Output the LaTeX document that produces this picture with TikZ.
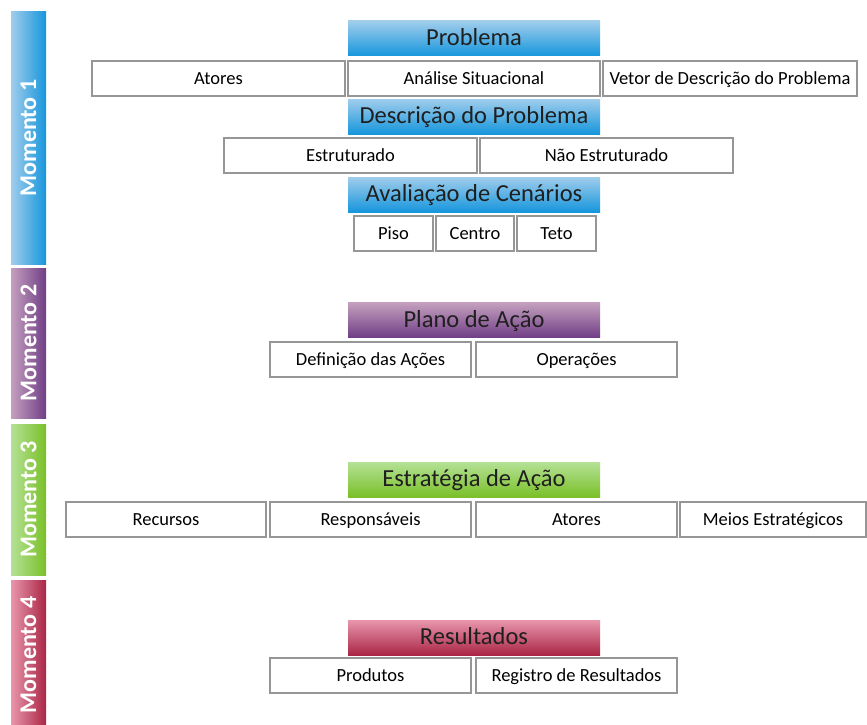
\documentclass[tikz,border=0pt]{standalone}
\usepackage{fontspec}
\setmainfont{Carlito}
\usepackage{graphicx}

\definecolor{azulA}{RGB}{160,205,236}
\definecolor{azulB}{RGB}{22,150,220}
\definecolor{roxoA}{RGB}{196,160,190}
\definecolor{roxoB}{RGB}{112,62,134}
\definecolor{verdeA}{RGB}{180,225,150}
\definecolor{verdeB}{RGB}{122,192,40}
\definecolor{rosaA}{RGB}{232,150,172}
\definecolor{rosaB}{RGB}{170,38,70}
\definecolor{borda}{RGB}{150,150,150}

\begin{document}
\begin{tikzpicture}[x=1pt, y=-1pt,
    caixa/.style={draw=borda, line width=1.1pt, rectangle, fill=white,
      minimum height=35pt, inner sep=0pt, text height=14pt, text depth=2pt,
      font=\fontsize{18.5}{20}\selectfont},
    titulo/.style={rectangle, minimum width=252pt, minimum height=35pt,
      inner sep=0pt, text height=18pt, text depth=3.5pt,
      font=\fontsize{24.5}{26}\selectfont, text=black!88},
    momento/.style={rectangle, minimum width=35pt, inner sep=0pt,
      text=white, font=\fontsize{24}{26}\selectfont\bfseries}]
  \useasboundingbox (0,0) rectangle (867,725);

  % barras laterais
  \node[momento, minimum height=252pt, left color=azulA, right color=azulB] (m1) at (28.5,138) {\rotatebox{90}{Momento 1}};
  \node[momento, minimum height=150pt, left color=roxoA, right color=roxoB] (m2) at (28.5,343) {\rotatebox{90}{Momento 2}};
  \node[momento, minimum height=151pt, left color=verdeA, right color=verdeB] (m3) at (28.5,499.5) {\rotatebox{90}{Momento 3}};
  \node[momento, minimum height=150pt, left color=rosaA, right color=rosaB] (m4) at (28.5,655) {\rotatebox{90}{Momento 4}};

  % momento 1
  \node[titulo, top color=azulA, bottom color=azulB] (prob) at (474,38.5) {Problema};
  \node[caixa, minimum width=253pt] (atores1) at (218.5,78.5) {Atores};
  \node[caixa, minimum width=252pt] (analise) at (474,78.5) {Análise Situacional};
  \node[caixa, minimum width=254pt] (vetor) at (730,78.5) {Vetor de Descrição do Problema};
  \node[titulo, top color=azulA, bottom color=azulB] (desc) at (474,116.5) {Descrição do Problema};
  \node[caixa, minimum width=253pt] (estrut) at (350.5,155.5) {Estruturado};
  \node[caixa, minimum width=253pt] (naoestrut) at (606.5,155.5) {Não Estruturado};
  \node[titulo, top color=azulA, bottom color=azulB] (aval) at (474,194.5) {Avaliação de Cenários};
  \node[caixa, minimum width=79pt] (piso) at (393.5,233.5) {Piso};
  \node[caixa, minimum width=78pt] (centro) at (475,233.5) {Centro};
  \node[caixa, minimum width=79pt] (teto) at (556.5,233.5) {Teto};

  % momento 2
  \node[titulo, top color=roxoA, bottom color=roxoB] (plano) at (474,320) {Plano de Ação};
  \node[caixa, minimum width=201pt] (defacoes) at (370.5,359.5) {Definição das Ações};
  \node[caixa, minimum width=201pt] (oper) at (576.5,359.5) {Operações};

  % momento 3
  \node[titulo, top color=verdeA, bottom color=verdeB] (estrat) at (474,479.5) {Estratégia de Ação};
  \node[caixa, minimum width=200pt] (recursos) at (166,519.5) {Recursos};
  \node[caixa, minimum width=201pt] (resp) at (370.5,519.5) {Responsáveis};
  \node[caixa, minimum width=201pt] (atores2) at (576.5,519.5) {Atores};
  \node[caixa, minimum width=186pt] (meios) at (773,519.5) {Meios Estratégicos};

  % momento 4
  \node[titulo, top color=rosaA, bottom color=rosaB] (result) at (474,637.5) {Resultados};
  \node[caixa, minimum width=201pt] (produtos) at (370.5,675.5) {Produtos};
  \node[caixa, minimum width=201pt] (registro) at (576.5,675.5) {Registro de Resultados};
\end{tikzpicture}
\end{document}
